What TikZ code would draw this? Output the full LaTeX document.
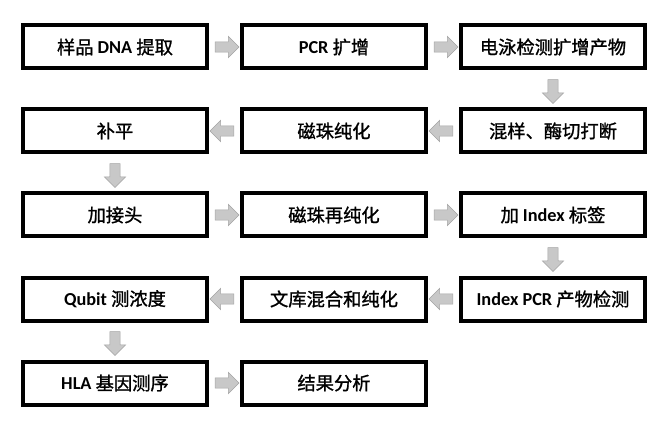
\documentclass[tikz,border=0pt]{standalone}
\usepackage{fontspec}
\setmainfont{Noto Sans CJK SC}[FakeBold=1.2]
\newfontfamily\latfont{Carlito}
\newcommand{\en}[1]{{\latfont\bfseries #1}}
\usetikzlibrary{shapes.arrows,positioning,calc}
\definecolor{arrgrey}{RGB}{200,200,200}
\definecolor{arrline}{RGB}{165,165,165}

\begin{document}
\begin{tikzpicture}[
    node distance=0.925cm and 0.775cm,
    stepbox/.style={rectangle, draw=black, line width=0.1cm, fill=white,
        minimum width=4.6cm, minimum height=1.075cm, inner sep=2pt,
        font=\fontsize{13}{15}\selectfont},
    flow/.style={single arrow, draw=arrline, fill=arrgrey, line width=0.4pt,
        minimum height=0.6cm, inner sep=0.12cm, single arrow head extend=0.14cm}
]
    \useasboundingbox (0,0) rectangle (16.75,-10.575);

    % row 1
    \node[stepbox] (dna) at (2.875,-1.175) {样品 \en{DNA} 提取};
    \node[stepbox, right=of dna] (pcr) {\en{PCR} 扩增};
    \node[stepbox, right=of pcr] (gel) {电泳检测扩增产物};
    % row 2
    \node[stepbox, below=of gel] (frag) {混样、酶切打断};
    \node[stepbox, left=of frag] (bead) {磁珠纯化};
    \node[stepbox, left=of bead] (repair) {补平};
    % row 3
    \node[stepbox, below=of repair] (adapt) {加接头};
    \node[stepbox, right=of adapt] (beadtwo) {磁珠再纯化};
    \node[stepbox, right=of beadtwo] (index) {加 \en{Index} 标签};
    % row 4
    \node[stepbox, below=of index] (ipcr) {\en{Index PCR} 产物检测};
    \node[stepbox, left=of ipcr] (pool) {文库混合和纯化};
    \node[stepbox, left=of pool] (qubit) {\en{Qubit} 测浓度};
    % row 5
    \node[stepbox, below=of qubit] (seq) {\en{HLA} 基因测序};
    \node[stepbox, right=of seq] (result) {结果分析};

    % grey block arrows
    \foreach \a/\b/\r in {dna/pcr/0, pcr/gel/0, gel/frag/270, frag/bead/180,
        bead/repair/180, repair/adapt/270, adapt/beadtwo/0, beadtwo/index/0,
        index/ipcr/270, ipcr/pool/180, pool/qubit/180, qubit/seq/270, seq/result/0}
        \node[flow, shape border rotate=\r] (\a-\b) at ($(\a)!0.5!(\b)$) {};
\end{tikzpicture}
\end{document}
